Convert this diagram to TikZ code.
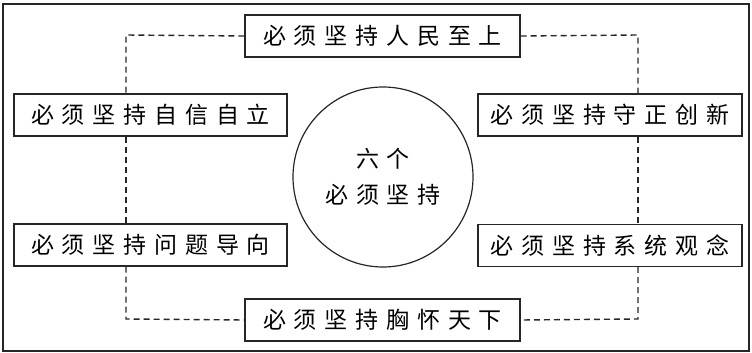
\documentclass[tikz,border=0pt]{standalone}
\usepackage{fontspec}
\usepackage{xcolor}
\usetikzlibrary{calc,positioning}
\newfontfamily\cjk[LetterSpace=34]{Noto Sans CJK SC}
\definecolor{FrameInk}{HTML}{262626}
\tikzset{
    pillar/.style={
        draw=FrameInk,
        line width=1.3pt,
        fill=white,
        minimum height=42pt,
        inner xsep=6pt,
        font=\cjk\fontsize{23}{26}\selectfont
    },
    linkdash/.style={
        draw=FrameInk,
        line width=1.4pt,
        dash pattern=on 6pt off 4pt
    }
}

\begin{document}
\begin{tikzpicture}[x=1pt,y=-1pt]
        \useasboundingbox (0,0) rectangle (752,353);
        \draw[FrameInk, line width=1.5pt] (3,4) rectangle (749,351);
        \coordinate (c1) at (126,35);
        \coordinate (c2) at (638,35);
        \coordinate (c3) at (638,319);
        \coordinate (c4) at (126,319);
        \node[draw=FrameInk, line width=1.2pt, circle, minimum size=180pt, align=center,
            font=\cjk\fontsize{23}{36}\selectfont] (core) at (383,177) {六个\\必须坚持};
        \node[pillar, minimum width=275pt] (m1) at (382.5,36) {必须坚持人民至上};
        \node[pillar, minimum width=273pt] (m2) at (150.5,115) {必须坚持自信自立};
        \node[pillar, minimum width=264pt] (m3) at (610,115) {必须坚持守正创新};
        \node[pillar, minimum width=273pt] (m4) at (150.5,245) {必须坚持问题导向};
        \node[pillar, minimum width=264pt] (m5) at (610,245.5) {必须坚持系统观念};
        \node[pillar, minimum width=275pt] (m6) at (382.5,320) {必须坚持胸怀天下};
        \draw[linkdash] (m1.west) -- (c1) -- (c1 |- m2.north);
        \draw[linkdash] (c1 |- m2.south) -- (c1 |- m4.north);
        \draw[linkdash] (c4 |- m4.south) -- (c4) -- (m6.west);
        \draw[linkdash] (m1.east) -- (c2) -- (c2 |- m3.north);
        \draw[linkdash] (c2 |- m3.south) -- (c2 |- m5.north);
        \draw[linkdash] (c3 |- m5.south) -- (c3) -- (m6.east);
    \end{tikzpicture}
\end{document}
